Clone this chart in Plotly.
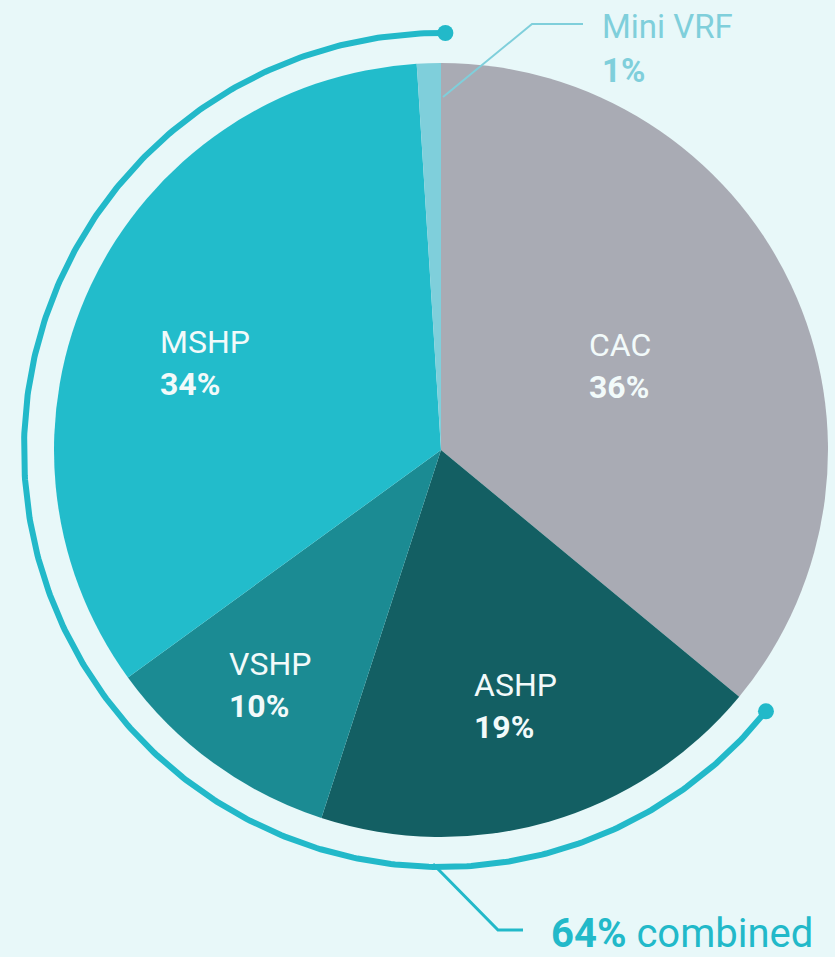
import numpy as np
import plotly.graph_objects as go

# data
labels = ["CAC", "ASHP", "VSHP", "MSHP", "Mini VRF"]
shares = [36, 19, 10, 34, 1]
colors = ["#A9ABB4", "#135F63", "#1B8B93", "#22BCCB", "#7FCFDB"]
heat_pumps = ["ASHP", "VSHP", "MSHP", "Mini VRF"]

W, H = 835, 957
cx, cy, R = 441, 450, 387   # pie centre / radius in pixels
R_arc = 417
bg = "#E8F8F9"
teal = "#22B9C9"
# where each inside label sits: (fraction of radius, degrees off the slice middle)
label_pos = {"CAC": (0.51, 0), "ASHP": (0.69, 0), "VSHP": (0.75, 0), "MSHP": (0.65, -5)}

fig = go.Figure()

fig.add_trace(go.Pie(
    labels=labels, values=shares, sort=False, direction="clockwise", rotation=0,
    marker=dict(colors=colors, line=dict(width=0)), textinfo="none",
    domain=dict(x=[(cx - R) / W, (cx + R) / W], y=[(H - cy - R) / H, (H - cy + R) / H]),
    showlegend=False, hoverinfo="skip",
))

total = sum(shares)
cum = np.cumsum([0] + shares) / total * 360
for i, (l, v) in enumerate(zip(labels, shares)):
    if l not in label_pos:
        continue
    fr, off = label_pos[l]
    mid = np.radians((cum[i] + cum[i + 1]) / 2 + off)
    fig.add_annotation(x=cx + fr * R * np.sin(mid), y=cy - fr * R * np.cos(mid),
                       xref="x", yref="y", text=f"{l}<br><b>{v}%</b>", showarrow=False,
                       align="left", font=dict(family="Roboto", size=32, color="#F2FAFA"))

# arc around the heat pump slices
start = sum(v for l, v in zip(labels, shares) if l not in heat_pumps) / total * 360
combined = sum(v for l, v in zip(labels, shares) if l in heat_pumps)
ang = np.radians(np.linspace(start - 0.8, 360.6, 400))
ax_x = cx + R_arc * np.sin(ang)
ax_y = cy - R_arc * np.cos(ang)
fig.add_trace(go.Scatter(x=ax_x, y=ax_y, mode="lines", line=dict(color=teal, width=6),
                         hoverinfo="skip", showlegend=False))
fig.add_trace(go.Scatter(x=[ax_x[0], ax_x[-1]], y=[ax_y[0], ax_y[-1]], mode="markers",
                         marker=dict(color=teal, size=16), hoverinfo="skip", showlegend=False))

# leader lines
fig.add_shape(type="path", path="M 433 864 L 498 930 L 523 930", xref="x", yref="y",
              line=dict(color=teal, width=3), layer="above")
fig.add_shape(type="path", path="M 443 97 L 532 24 L 583 24", xref="x", yref="y",
              line=dict(color="#7FCFDB", width=2), layer="above")

fig.add_annotation(x=600, y=26, xref="x", yref="y", text="Mini VRF", showarrow=False,
                   xanchor="left", font=dict(family="Roboto", size=33, color="#7FCFDB"))
fig.add_annotation(x=600, y=70, xref="x", yref="y", text=f"<b>{shares[-1]}%</b>", showarrow=False,
                   xanchor="left", font=dict(family="Roboto", size=33, color="#7FCFDB"))
fig.add_annotation(x=549, y=933, xref="x", yref="y", text=f"<b>{combined}%</b> combined",
                   showarrow=False, xanchor="left", font=dict(family="Roboto", size=40, color=teal))

fig.update_xaxes(range=[0, W], visible=False)
fig.update_yaxes(range=[H, 0], visible=False)
fig.update_layout(width=W, height=H, margin=dict(l=0, r=0, t=0, b=0),
                  paper_bgcolor=bg, plot_bgcolor=bg)

fig.write_html("out.html", config={"displayModeBar": False},
               post_script="document.body.style.margin='0';")
